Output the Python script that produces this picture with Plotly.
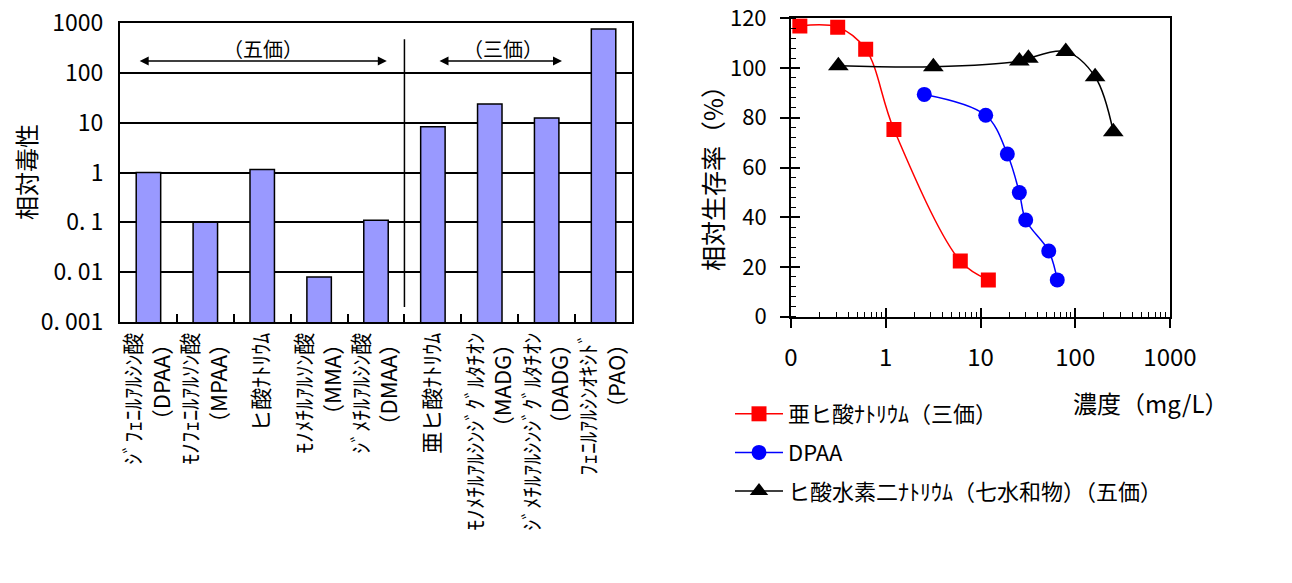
import plotly.graph_objects as go

# ---------------- data ----------------
categories = [
    "ｼﾞﾌｪﾆﾙｱﾙｼﾝ酸<br>（DPAA）",
    "ﾓﾉﾌｪﾆﾙｱﾙｿﾝ酸<br>（MPAA）",
    "ヒ酸ﾅﾄﾘｳﾑ",
    "ﾓﾉﾒﾁﾙｱﾙｿﾝ酸<br>（MMA）",
    "ｼﾞﾒﾁﾙｱﾙｼﾝ酸<br>（DMAA）",
    "亜ヒ酸ﾅﾄﾘｳﾑ",
    "ﾓﾉﾒﾁﾙｱﾙｼﾝｼﾞｸﾞﾙﾀﾁｵﾝ<br>（MADG）",
    "ｼﾞﾒﾁﾙｱﾙｼﾝｼﾞｸﾞﾙﾀﾁｵﾝ<br>（DADG）",
    "ﾌｪﾆﾙｱﾙｼﾝｵｷｼﾄﾞ<br>（PAO）",
]
toxicity = [1.0, 0.1, 1.15, 0.008, 0.11, 8.3, 23.6, 12.4, 760]

left_ytickvals = [0.001, 0.01, 0.1, 1, 10, 100, 1000]
left_yticktext = ["0. 001", "0. 01", "0. 1", "1", "10", "100", "1000"]

arsenite_name = "亜ヒ酸ﾅﾄﾘｳﾑ（三価）"
arsenite_conc = [0.124, 0.311, 0.614, 1.22, 6.12, 12.1]
arsenite_surv = [116.9, 116.4, 107.6, 75.3, 22.4, 14.8]

dpaa_name = "DPAA"
dpaa_conc = [2.55, 11.35, 19.2, 25.7, 30.0, 52.5, 64.6]
dpaa_surv = [89.4, 81.0, 65.4, 49.9, 38.9, 26.4, 14.8]

arsenate_name = "ヒ酸水素二ﾅﾄﾘｳﾑ（七水和物）（五価）"
arsenate_conc = [0.316, 3.18, 25.7, 32.0, 79.4, 162, 252]
arsenate_surv = [100.9, 100.5, 102.8, 103.9, 106.6, 96.5, 74.4]

right_xtickvals = [0.1, 1, 10, 100, 1000]
right_xticktext = ["0", "1", "10", "100", "1000"]
right_ytickvals = [0, 20, 40, 60, 80, 100, 120]

FONT = "Noto Sans CJK JP"
OFF = 8            # page body margin
W, H = 1276, 567


def fx(p):
    return (p - OFF) / W


def fy(p):
    return 1 - (p - OFF) / H


fig = go.Figure()

# ---------------- left chart: bars ----------------
fig.add_trace(go.Bar(
    x=categories, y=toxicity, width=0.43,
    marker=dict(color="#9999FF", line=dict(color="black", width=1.5)),
    xaxis="x", yaxis="y", showlegend=False,
))

# ---------------- right chart: lines ----------------
series = [
    (arsenite_name, arsenite_conc, arsenite_surv, "#FF0000", "square", 15),
    (dpaa_name, dpaa_conc, dpaa_surv, "#0000FF", "circle", 15),
    (arsenate_name, arsenate_conc, arsenate_surv, "#000000", "triangle-up", 18),
]
for i, (name, xs, ys, col, sym, sz) in enumerate(series):
    fig.add_trace(go.Scatter(
        x=xs, y=ys, name=name, mode="lines+markers",
        line=dict(color=col, width=1.5, shape="spline", smoothing=1.0),
        marker=dict(color=col, symbol=sym, size=sz),
        xaxis="x2", yaxis="y2", legendgroup=f"g{i}",
    ))

# dummy trace for overlay axes (inside part of the major ticks)
fig.add_trace(go.Scatter(x=[], y=[], xaxis="x3", yaxis="y3", showlegend=False))

minor_x = [m * 10 ** e for e in range(-1, 3) for m in range(2, 10)]

fig.update_layout(
    width=W, height=H,
    margin=dict(l=0, r=0, t=0, b=0),
    paper_bgcolor="white", plot_bgcolor="white",
    font=dict(family=FONT, color="black", size=20),
    xaxis=dict(
        domain=[fx(120), fx(632)],
        anchor="y", type="category",
        showline=True, linecolor="black", linewidth=2, mirror=True,
        ticks="inside", tickson="boundaries", ticklen=8, tickcolor="black", tickwidth=1.5,
        tickangle=-90, tickfont=dict(size=22, family=FONT),
        showgrid=False, automargin=False,
    ),
    yaxis=dict(
        domain=[fy(322), fy(23)],
        anchor="x", type="log", range=[-3, 3],
        tickvals=left_ytickvals, ticktext=left_yticktext,
        ticks="outside", ticklen=10, tickcolor="rgba(0,0,0,0)",
        tickfont=dict(size=23, family=FONT), ticklabeloverflow="allow",
        showgrid=True, gridcolor="black", gridwidth=1.5,
        showline=True, linecolor="black", linewidth=2, mirror=True,
        zeroline=False, automargin=False,
    ),
    xaxis2=dict(
        domain=[fx(791), fx(1170)],
        anchor="y2", type="log", range=[-1, 3],
        tickvals=right_xtickvals, ticktext=right_xticktext,
        ticks="outside", ticklen=9, tickcolor="black", tickwidth=1.5,
        minor=dict(tickvals=minor_x, ticks="inside", ticklen=5, tickcolor="black", tickwidth=1),
        ticklabelstandoff=9, ticklabeloverflow="allow",
        tickfont=dict(size=24, family=FONT),
        showgrid=False, zeroline=False,
        showline=True, linecolor="black", linewidth=2, mirror=True,
        automargin=False,
    ),
    yaxis2=dict(
        domain=[fy(316.7), fy(18.3)],
        anchor="x2", range=[0, 120],
        tickmode="array", tickvals=right_ytickvals,
        ticks="outside", ticklen=9, tickcolor="black", tickwidth=1.5,
        minor=dict(dtick=4, ticks="inside", ticklen=5, tickcolor="black", tickwidth=1),
        ticklabelstandoff=9, ticklabeloverflow="allow",
        tickfont=dict(size=22, family=FONT),
        showgrid=False, zeroline=False,
        showline=True, linecolor="black", linewidth=2, mirror=True,
        automargin=False,
    ),
    xaxis3=dict(
        overlaying="x2", anchor="y3", type="log", range=[-1, 3],
        tickvals=right_xtickvals, ticks="inside", ticklen=9, tickcolor="black", tickwidth=1.5,
        showticklabels=False, showgrid=False, zeroline=False, showline=False,
    ),
    yaxis3=dict(
        overlaying="y2", anchor="x3", range=[0, 120],
        tickmode="array", tickvals=right_ytickvals,
        ticks="inside", ticklen=9, tickcolor="black", tickwidth=1.5,
        showticklabels=False, showgrid=False, zeroline=False, showline=False,
    ),
    legend=dict(
        x=fx(730), y=fy(393), xanchor="left", yanchor="top",
        font=dict(size=22, family=FONT), bgcolor="rgba(0,0,0,0)",
        traceorder="grouped", tracegroupgap=7, itemwidth=48,
    ),
)

# separator line between pentavalent and trivalent groups
fig.add_shape(type="line", xref="x", yref="y domain",
              x0=4.5, x1=4.5, y0=0.05, y1=0.946,
              line=dict(color="black", width=1.5))

annotations = []
# double-headed arrows
for x_start, x_end in [(-0.18, 4.19), (5.09, 7.27)]:
    annotations.append(dict(
        xref="x", yref="y domain", x=x_end, y=0.873,
        axref="x", ayref="pixel", ax=x_start, ay=0,
        text="", showarrow=True, arrowhead=2, startarrowhead=2,
        arrowside="end+start", arrowsize=1.2, startarrowsize=1.2,
        arrowwidth=1.5, arrowcolor="black",
    ))
annotations += [
    dict(xref="x", yref="y domain", x=2.01, y=0.916, text="（五価）",
         xanchor="center", yanchor="middle",
         showarrow=False, font=dict(size=20, family=FONT)),
    dict(xref="x", yref="y domain", x=6.23, y=0.916, text="（三価）",
         xanchor="center", yanchor="middle",
         showarrow=False, font=dict(size=20, family=FONT)),
    dict(xref="paper", yref="paper", x=fx(25), y=fy(172), text="相対毒性",
         xanchor="center", yanchor="middle",
         textangle=-90, showarrow=False, font=dict(size=24, family=FONT)),
    dict(xref="paper", yref="paper", x=fx(712), y=fy(172), text="相対生存率（%）",
         xanchor="center", yanchor="middle",
         textangle=-90, showarrow=False, font=dict(size=25, family=FONT)),
    dict(xref="paper", yref="paper", x=fx(1230), y=fy(402), text="濃度（mg/L）",
         xanchor="right", yanchor="middle", showarrow=False, font=dict(size=24, family=FONT)),
]
fig.update_layout(annotations=annotations)

fig.write_html("out.html")
